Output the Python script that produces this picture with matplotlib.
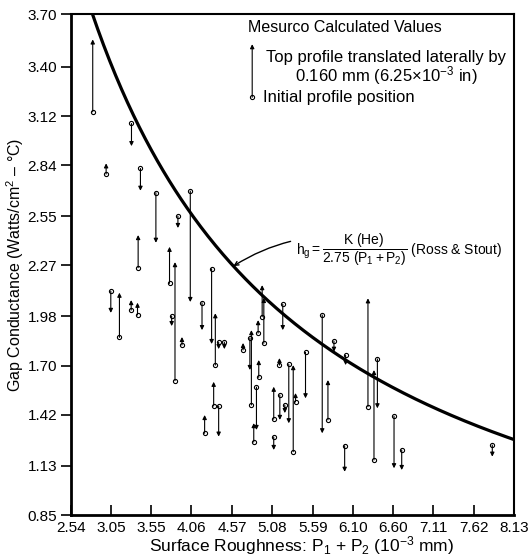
import numpy as np
import matplotlib
matplotlib.use("Agg")
import matplotlib.pyplot as plt

plt.rcParams['font.family'] = ['Liberation Sans', 'DejaVu Sans']
plt.rcParams['mathtext.fontset'] = 'custom'
plt.rcParams['mathtext.rm'] = 'Liberation Sans'
plt.rcParams['mathtext.it'] = 'Liberation Sans'
plt.rcParams['mathtext.bf'] = 'Liberation Sans:bold'

# tick labels (mm, every 0.1 in of roughness)
x_ticks = [2.54, 3.05, 3.55, 4.06, 4.57, 5.08, 5.59, 6.10, 6.60, 7.11, 7.62, 8.13]
y_ticks = [0.85, 1.13, 1.42, 1.70, 1.98, 2.27, 2.55, 2.84, 3.12, 3.40, 3.70]

# Mesurco values: roughness, initial position (circle), translated profile (arrow tip)
rough = [2.814, 3.303, 2.983, 3.416, 3.611, 4.045, 3.889, 3.387, 3.783, 3.852,
         4.314, 3.042, 3.151, 3.299, 3.379, 3.810, 3.940, 4.193, 4.361, 4.403,
         4.475, 4.711, 4.226, 4.340, 4.403, 4.952, 4.973, 5.212, 4.901, 4.797,
         4.816, 4.880, 4.846, 4.909, 5.170, 5.288, 5.344, 5.373, 5.098, 5.175,
         5.238, 5.098, 5.499, 5.710, 5.782, 5.858, 6.005, 5.993, 6.287, 6.406,
         6.363, 6.616, 6.713, 7.856]
h_init = [3.144, 3.078, 2.790, 2.822, 2.684, 2.693, 2.551, 2.257, 2.168, 1.614,
          2.251, 2.124, 1.861, 2.016, 1.988, 1.982, 1.817, 2.058, 1.703, 1.834,
          1.834, 1.789, 1.315, 1.470, 1.470, 1.978, 1.827, 2.050, 1.885, 1.857,
          1.476, 1.578, 1.265, 1.633, 1.703, 1.707, 1.210, 1.493, 1.395, 1.533,
          1.476, 1.294, 1.776, 1.988, 1.391, 1.840, 1.760, 1.244, 1.466, 1.738,
          1.163, 1.413, 1.220, 1.248]
h_trans = [3.556, 2.949, 2.851, 2.695, 2.399, 2.062, 2.483, 2.443, 2.376, 2.289,
           1.823, 2.000, 2.115, 2.073, 2.058, 1.925, 1.863, 1.902, 1.998, 1.794,
           1.794, 1.829, 1.419, 1.608, 1.296, 2.158, 2.085, 1.902, 1.959, 1.675,
           1.902, 1.334, 1.373, 1.732, 1.743, 1.372, 1.703, 1.544, 1.580, 1.391,
           1.430, 1.220, 1.514, 1.315, 1.618, 1.779, 1.703, 1.096, 2.083, 1.457,
           1.675, 1.116, 1.106, 1.182]

# Ross & Stout: hg = K(He) / (2.75 (P1+P2))
K_HE = 28.6

fig = plt.figure(figsize=(5.28, 5.59), dpi=100)
ax = fig.add_axes([0.1345, 0.0787, 0.839, 0.896])

xs = np.linspace(2.5, 8.13, 300)
ax.plot(xs, K_HE / (2.75 * xs), color='black', lw=2.3, solid_capstyle='butt')

for x, y0, y1 in zip(rough, h_init, h_trans):
    ax.annotate('', xy=(x, y1), xytext=(x, y0),
                arrowprops=dict(arrowstyle='-|>', color='black', lw=0.8,
                                mutation_scale=6, shrinkA=0, shrinkB=0))
ax.plot(rough, h_init, 'o', ms=3, mfc='white', mec='black', mew=0.8, ls='none')

ax.set_xlim(2.54, 8.13)
ax.set_ylim(0.85, 3.70)
ax.set_xticks(x_ticks)
ax.set_xticklabels([f"{v:.2f}" for v in x_ticks])
ax.set_yticks(y_ticks)
ax.set_yticklabels([f"{v:.2f}" for v in y_ticks])
ax.tick_params(axis='x', direction='in', length=7, width=1.2, labelsize=11, pad=4)
ax.tick_params(axis='y', direction='out', length=7, width=1.2, labelsize=11, pad=3)
ax.spines['left'].set_linewidth(2)
ax.spines['bottom'].set_linewidth(2)
ax.spines['top'].set_linewidth(1.5)
ax.spines['right'].set_linewidth(1.5)

ax.set_xlabel(r'Surface Roughness: P$_1$ + P$_2$ (10$^{-3}$ mm)', fontsize=12.5, labelpad=0)
ax.xaxis.label.set_x(0.52)
ax.set_ylabel(r'Gap Conductance (Watts/cm$^2$ – °C)', fontsize=11.5, labelpad=1)

# legend block
ax.text(0.400, 0.974, 'Mesurco Calculated Values', transform=ax.transAxes,
        fontsize=11.5, va='center', ha='left')
ax.annotate('', xy=(0.409, 0.940), xytext=(0.409, 0.834), xycoords='axes fraction',
            arrowprops=dict(arrowstyle='-|>', color='black', lw=0.8,
                            mutation_scale=6, shrinkA=0, shrinkB=0))
ax.plot([0.409], [0.834], 'o', ms=3, mfc='white', mec='black', mew=0.8,
        transform=ax.transAxes)
ax.text(0.712, 0.914, 'Top profile translated laterally by', transform=ax.transAxes,
        fontsize=12, va='center', ha='center')
ax.text(0.712, 0.878, r'0.160 mm (6.25$\times$10$^{-3}$ in)', transform=ax.transAxes,
        fontsize=12, va='center', ha='center')
ax.text(0.433, 0.834, 'Initial profile position', transform=ax.transAxes,
        fontsize=12, va='center', ha='left')

# curve label
ax.annotate(r'$h_g = \dfrac{K\ (He)}{2.75\ (P_1 + P_2)}$ (Ross & Stout)',
            xy=(4.589, K_HE / (2.75 * 4.589)), xytext=(5.38, 2.358),
            fontsize=10, va='center', ha='left',
            arrowprops=dict(arrowstyle='->', color='black', lw=1.0,
                            mutation_scale=7, shrinkA=2, shrinkB=0,
                            connectionstyle='arc3,rad=0.25'))

fig.savefig('out.png', dpi=100)
